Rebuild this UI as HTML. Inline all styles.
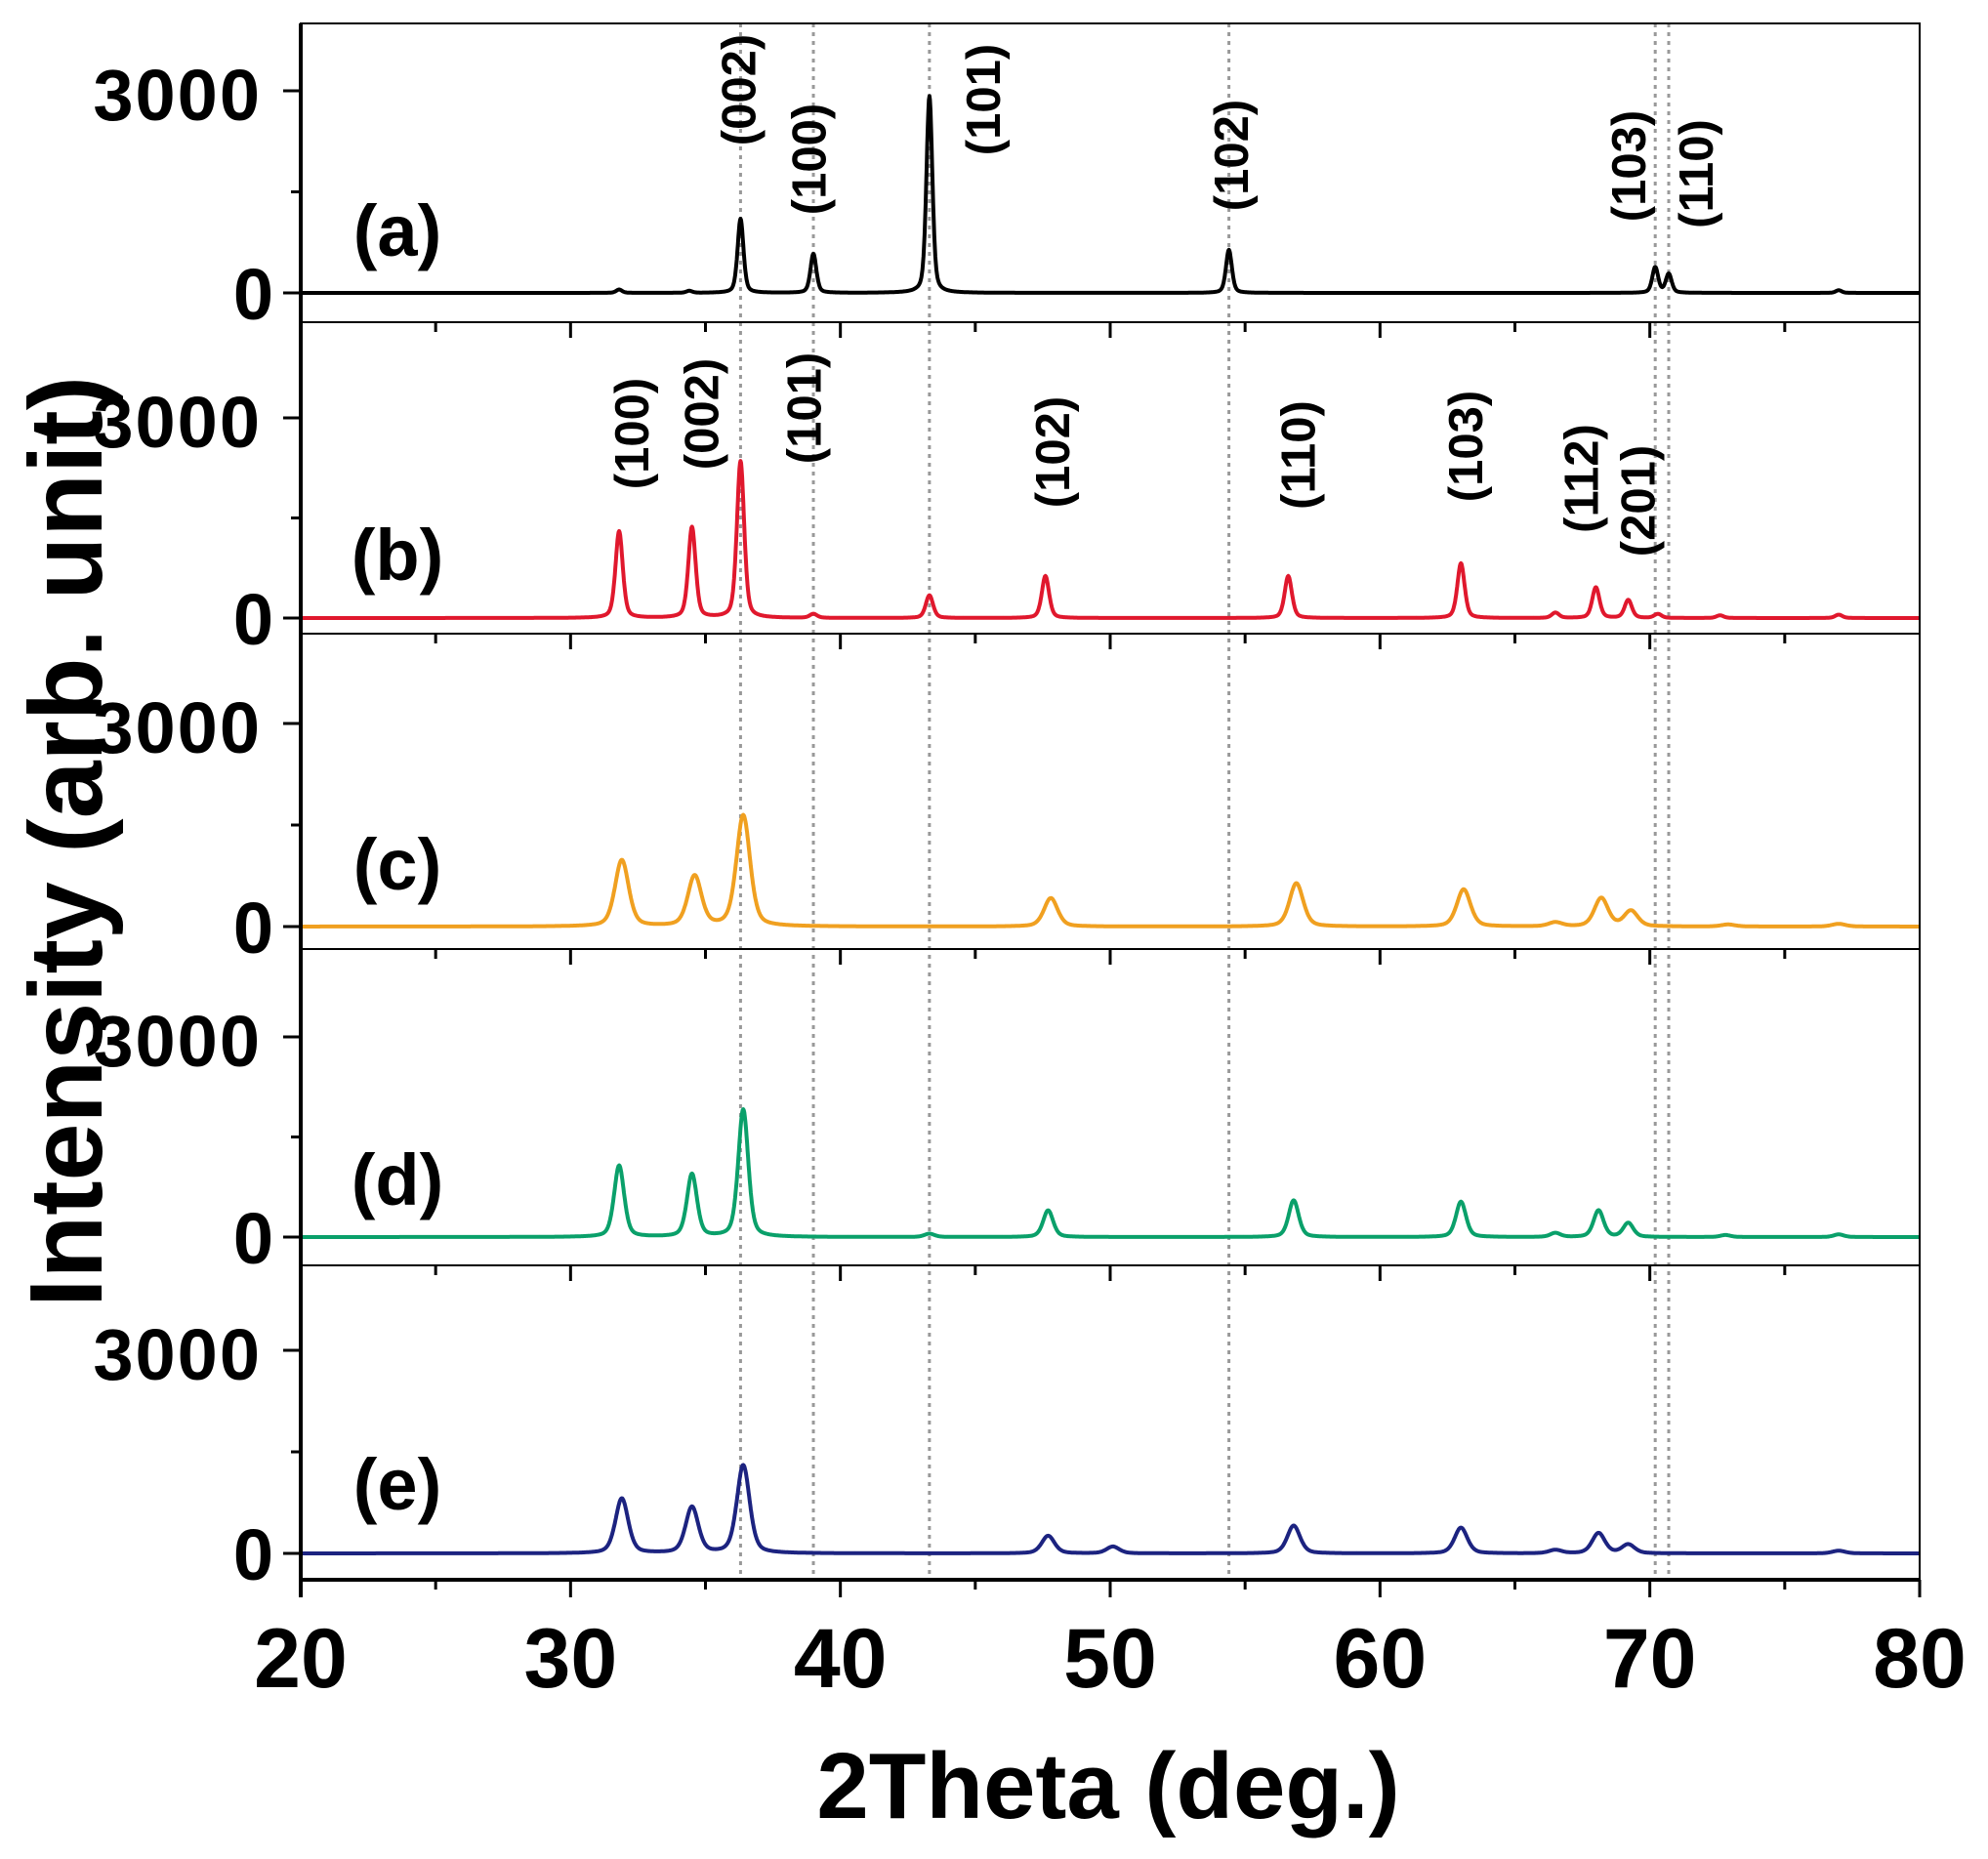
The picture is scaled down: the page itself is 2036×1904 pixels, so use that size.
<!DOCTYPE html>
<html><head><meta charset="utf-8"><style>
html,body{margin:0;padding:0;background:#fff}
svg{display:block}
text{font-family:"Liberation Sans",Arial,sans-serif}
</style></head><body>
<svg id="chart" width="2036" height="1904" viewBox="0 0 2036 1904" xmlns="http://www.w3.org/2000/svg">
<g id="grid"></g>
<g id="series"></g>
<g id="axes"></g>
<g id="labels"></g>
<text x="1135" y="1862" font-size="96" font-weight="bold" text-anchor="middle">2Theta (deg.)</text>
<text transform="translate(104,862) rotate(-90)" font-size="106" font-weight="bold" text-anchor="middle">Intensity (arb. unit)</text>
</svg>
<script>
// ---- data ----
const xTicks = [20, 30, 40, 50, 60, 70, 80];
const yTickLabels = ["0", "3000"];
const panelNames = ["a", "b", "c", "d", "e"];
const seriesColors = ["#000000", "#e0182d", "#f0a020", "#0aa06a", "#1c2380"];
const refLines = [36.3, 39.0, 43.3, 54.4, 70.2, 70.7];
// peak positions / heights per panel
const posA = [31.8, 34.4, 36.3, 39.0, 43.3, 54.4, 70.2, 70.7, 77.0];
const hA   = [50, 30, 1100, 580, 2920, 640, 380, 280, 40];
const posB = [31.8, 34.5, 36.3, 39.0, 43.3, 47.6, 56.6, 63.0, 66.5, 68.0, 69.2, 70.3, 72.6, 77.0];
const hB   = [1300, 1360, 2350, 60, 340, 630, 630, 820, 80, 460, 270, 60, 40, 50];
const posC = [31.9, 34.6, 36.4, 47.8, 56.9, 63.1, 66.5, 68.2, 69.3, 72.9, 77.0];
const hC   = [980, 740, 1640, 420, 640, 550, 60, 420, 230, 30, 40];
const posD = [31.8, 34.5, 36.4, 43.3, 47.7, 56.8, 63.0, 66.5, 68.1, 69.2, 72.8, 77.0];
const hD   = [1070, 940, 1910, 50, 400, 550, 530, 60, 400, 210, 30, 40];
const posE = [31.9, 34.5, 36.4, 47.7, 50.1, 56.8, 63.0, 66.5, 68.1, 69.2, 77.0];
const hE   = [810, 680, 1300, 260, 100, 410, 380, 50, 300, 130, 40];
const widths = [0.13, 0.16, 0.30, 0.22, 0.28];
// annotations
const annA = [["(002)",36.27,92],["(100)",38.87,163],["(101)",45.33,102],["(102)",54.53,159],["(103)",69.25,170],["(110)",71.75,178]];
const annB = [["(100)",32.3,444],["(002)",34.9,424],["(101)",38.7,418],["(102)",47.9,463],["(110)",57.0,466],["(103)",63.2,457],["(112)",67.5,490],["(201)",69.6,513]];

// ---- layout ----
const X0 = 308, X1 = 1966;
const panels = [
  {top: 24, bottom: 330, zero: 300, k3000: 93},
  {top: 330, bottom: 649, zero: 633, k3000: 428},
  {top: 649, bottom: 972, zero: 949, k3000: 741},
  {top: 972, bottom: 1296, zero: 1267, k3000: 1062},
  {top: 1296, bottom: 1618, zero: 1591, k3000: 1383}
];
const NS = "http://www.w3.org/2000/svg";
function xs(v){ return X0 + (v - 20) / 60 * (X1 - X0); }
function ys(p, v){ return p.zero - v / 3000 * (p.zero - p.k3000); }
function mk(tag, attrs, parent){
  const e = document.createElementNS(NS, tag);
  for (const k in attrs) e.setAttribute(k, attrs[k]);
  parent.appendChild(e); return e;
}
const gGrid = document.getElementById('grid');
const gSeries = document.getElementById('series');
const gAxes = document.getElementById('axes');
const gLab = document.getElementById('labels');

refLines.forEach(v => {
  const l = mk('line', {x1: xs(v), x2: xs(v), y1: 24, y2: 1618, stroke: '#999', 'stroke-width': 3, 'stroke-dasharray': '4,5'}, gGrid);
  
  
});

const allPos = [posA, posB, posC, posD, posE];
const allH = [hA, hB, hC, hD, hE];
panels.forEach((p, i) => {
  const w = widths[i];
  let d = '';
  for (let x = 20; x <= 80.0001; x += 0.02) {
    let y = 0;
    for (let j = 0; j < allPos[i].length; j++) {
      const t = (x - allPos[i][j]) / w;
      y += allH[i][j] * (0.6 * Math.exp(-t * t * 0.693) + 0.4 / (1 + t * t));
    }
    d += (d ? 'L' : 'M') + xs(x).toFixed(1) + ',' + ys(p, y).toFixed(1);
  }
  const path = mk('path', {d: d, fill: 'none', stroke: seriesColors[i], 'stroke-width': 4, 'stroke-linejoin': 'round'}, gSeries);
  
  

  const r = mk('rect', {x: X0, y: p.top, width: X1 - X0, height: p.bottom - p.top, fill: 'none', stroke: '#000', 'stroke-width': 2}, gAxes);
  
  
  [0, 1500, 3000].forEach(v => {
    const len = v === 1500 ? 10 : 18;
    mk('line', {x1: X0 - len, x2: X0, y1: ys(p, v), y2: ys(p, v), stroke: '#000', 'stroke-width': 3}, gAxes);
  });
  yTickLabels.forEach(lbl => {
    const v = +lbl;
    const t = mk('text', {x: v === 0 ? 282 : 268, y: ys(p, v) + (v === 0 ? 27 : 30), 'font-size': 74, 'font-weight': 'bold', 'text-anchor': 'end', 'letter-spacing': '2'}, gLab);
    t.textContent = lbl;
    
    
  });
  for (let v = 25; v < 80; v += 5) {
    const len = v % 10 === 0 ? 16 : 10;
    if (i > 0) mk('line', {x1: xs(v), x2: xs(v), y1: p.top, y2: p.top + len, stroke: '#000', 'stroke-width': 3}, gAxes);
  }
  const pl = mk('text', {x: 407, y: [262, 594, 911, 1234, 1546][i], 'font-size': 74, 'font-weight': 'bold', 'text-anchor': 'middle'}, gLab);
  pl.textContent = '(' + panelNames[i] + ')';
  
  
});
mk('line', {x1: X0, x2: X0, y1: 24, y2: 1636, stroke: '#000', 'stroke-width': 4}, gAxes);
mk('line', {x1: X0, x2: X1, y1: 1618, y2: 1618, stroke: '#000', 'stroke-width': 4}, gAxes);
for (let v = 20; v <= 80; v += 5) {
  const len = v % 10 === 0 ? 18 : 10;
  mk('line', {x1: xs(v), x2: xs(v), y1: 1618, y2: 1618 + len, stroke: '#000', 'stroke-width': 3}, gAxes);
}
xTicks.forEach(v => {
  const t = mk('text', {x: xs(v), y: 1728, 'font-size': 86, 'font-weight': 'bold', 'text-anchor': 'middle'}, gLab);
  t.textContent = String(v);
  
  
});
function ann(list){
  list.forEach(a => {
    const t = mk('text', {transform: 'translate(' + (xs(a[1]) + 16) + ',' + a[2] + ') rotate(-90)', 'font-size': 49, 'font-weight': 'bold', 'text-anchor': 'middle'}, gLab);
    t.textContent = a[0];
    
    
  });
}
ann(annA); ann(annB);
</script>
</body></html>
